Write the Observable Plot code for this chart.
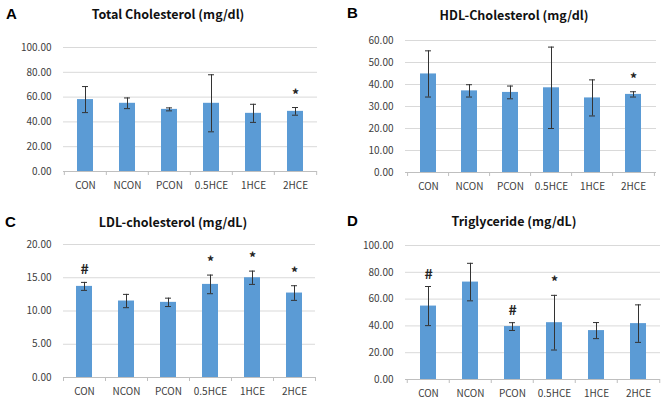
<!DOCTYPE html>
<html>
<head>
<meta charset="utf-8">
<script src="https://cdn.jsdelivr.net/npm/d3@7"></script>
<script src="https://cdn.jsdelivr.net/npm/@observablehq/plot@0.6"></script>
<style>
  html, body { margin: 0; padding: 0; background: #fff; }
  #figure { position: relative; width: 668px; height: 399px; overflow: hidden; font-family: "Noto Sans CJK KR", "Noto Sans", sans-serif; }
  .panel { position: absolute; }
  .panel svg { position: absolute; left: 0; top: 0; }
  .letter { position: absolute; font-family: "Liberation Sans", Arial, sans-serif; font-weight: bold; font-size: 15px; line-height: 16px; color: #000; }
  .title { position: absolute; font-weight: bold; font-size: 12.5px; line-height: 16px; color: #111; transform: translateX(-50%); white-space: nowrap; }
</style>
</head>
<body>
<div id="figure"></div>
<script>
// Treatment groups shared by all four panels
const groups = ["CON", "NCON", "PCON", "0.5HCE", "1HCE", "2HCE"];

// Total cholesterol (mg/dl): mean, SD, significance marks
const totalMean = [58.0, 55.0, 50.1, 55.0, 46.9, 48.5];
const totalSd = [10.5, 4.3, 1.2, 23.0, 7.3, 3.1];
const totalMarks = ["", "", "", "", "", "*"];
const totalTicks = [0, 20, 40, 60, 80, 100];

// HDL-cholesterol (mg/dl)
const hdlMean = [44.8, 37.1, 36.4, 38.5, 33.9, 35.5];
const hdlSd = [10.5, 2.8, 2.9, 18.5, 8.2, 1.2];
const hdlMarks = ["", "", "", "", "", "*"];
const hdlTicks = [0, 10, 20, 30, 40, 50, 60];

// LDL-cholesterol (mg/dL)
const ldlMean = [13.7, 11.5, 11.3, 14.0, 15.0, 12.7];
const ldlSd = [0.6, 1.0, 0.63, 1.4, 1.0, 1.1];
const ldlMarks = ["#", "", "", "*", "*", "*"];
const ldlTicks = [0, 5, 10, 15, 20];

// Triglyceride (mg/dL)
const tgMean = [54.8, 72.7, 39.5, 42.4, 36.5, 41.7];
const tgSd = [14.6, 14.0, 2.9, 20.4, 6.0, 14.0];
const tgMarks = ["#", "", "#", "*", "", ""];
const tgTicks = [0, 20, 40, 60, 80, 100];

const barColor = "#5b9bd5";

function panel({letter, title, mean, sd, marks, ticks, left, top, width, height, margin, titleX, titleY, letterX, letterY}) {
  const rows = groups.map((g, i) => ({group: g, mean: mean[i], sd: sd[i], mark: marks[i]}));
  const step = (width - margin.left - margin.right) / groups.length;
  const last = groups[groups.length - 1];

  const chart = Plot.plot({
    width, height,
    marginLeft: margin.left, marginRight: margin.right,
    marginTop: margin.top, marginBottom: margin.bottom,
    style: {fontFamily: '"Noto Sans CJK KR", "Noto Sans", sans-serif', fontSize: "10px", color: "#404040", background: "transparent"},
    x: {domain: groups, paddingInner: 0.62, paddingOuter: 0.31, label: null, tickSize: 0, tickPadding: 10},
    y: {domain: [ticks[0], ticks[ticks.length - 1]], ticks, tickFormat: d3.format(".2f"), label: null, tickSize: 0, tickPadding: 12},
    marks: [
      Plot.gridY(ticks, {stroke: "#d9d9d9", strokeOpacity: 1}),
      Plot.barY(rows, {x: "group", y: "mean", fill: barColor}),
      Plot.ruleY([0], {stroke: "#bfbfbf"}),
      // category boundary ticks below the baseline
      Plot.ruleX(groups, {x: d => d, dx: -step / 2, y1: 0, y2: 0, insetBottom: -4, stroke: "#bfbfbf"}),
      Plot.ruleX([last], {x: d => d, dx: step / 2, y1: 0, y2: 0, insetBottom: -4, stroke: "#bfbfbf"}),
      // error bars (mean ± SD)
      Plot.ruleX(rows, {x: "group", y1: d => d.mean - d.sd, y2: d => d.mean + d.sd, stroke: "#333", strokeWidth: 1}),
      Plot.tickY(rows, {x: "group", y: d => d.mean + d.sd, stroke: "#333", insetLeft: 5, insetRight: 5}),
      Plot.tickY(rows, {x: "group", y: d => d.mean - d.sd, stroke: "#333", insetLeft: 5, insetRight: 5}),
      // significance marks
      Plot.text(rows.filter(d => d.mark), {x: "group", y: d => d.mean + d.sd, text: "mark", lineAnchor: "bottom", dy: -8, fontSize: 14, fill: "#222", fontWeight: "bold"}),
      Plot.axisY({ticks, tickFormat: d3.format(".2f"), tickSize: 0, tickPadding: 12, fill: "#404040"}),
      Plot.axisX({tickSize: 0, tickPadding: 10, fill: "#404040"})
    ]
  });

  const div = document.createElement("div");
  div.className = "panel";
  div.style.left = left + "px";
  div.style.top = top + "px";
  div.style.width = width + "px";
  div.style.height = height + "px";
  div.appendChild(chart);

  const l = document.createElement("div");
  l.className = "letter";
  l.textContent = letter;
  l.style.left = letterX + "px";
  l.style.top = (letterY - 8) + "px";
  div.appendChild(l);

  const t = document.createElement("div");
  t.className = "title";
  t.textContent = title;
  t.style.left = titleX + "px";
  t.style.top = (titleY - 8) + "px";
  div.appendChild(t);

  document.getElementById("figure").appendChild(div);
}

panel({letter: "A", title: "Total Cholesterol (mg/dl)", mean: totalMean, sd: totalSd, marks: totalMarks, ticks: totalTicks,
  left: 0, top: 0, width: 334, height: 200, margin: {left: 63, right: 17, top: 47, bottom: 29},
  titleX: 168, titleY: 14, letterX: 6, letterY: 14});

panel({letter: "B", title: "HDL-Cholesterol (mg/dl)", mean: hdlMean, sd: hdlSd, marks: hdlMarks, ticks: hdlTicks,
  left: 334, top: 0, width: 334, height: 200, margin: {left: 71, right: 12, top: 40, bottom: 28},
  titleX: 180, titleY: 15, letterX: 13, letterY: 13});

panel({letter: "C", title: "LDL-cholesterol (mg/dL)", mean: ldlMean, sd: ldlSd, marks: ldlMarks, ticks: ldlTicks,
  left: 0, top: 200, width: 334, height: 199, margin: {left: 63, right: 19, top: 44, bottom: 22},
  titleX: 173, titleY: 22, letterX: 5, letterY: 22});

panel({letter: "D", title: "Triglyceride (mg/dL)", mean: tgMean, sd: tgSd, marks: tgMarks, ticks: tgTicks,
  left: 334, top: 200, width: 334, height: 199, margin: {left: 71, right: 8, top: 45, bottom: 20},
  titleX: 180, titleY: 21, letterX: 13, letterY: 21});
</script>
</body>
</html>
